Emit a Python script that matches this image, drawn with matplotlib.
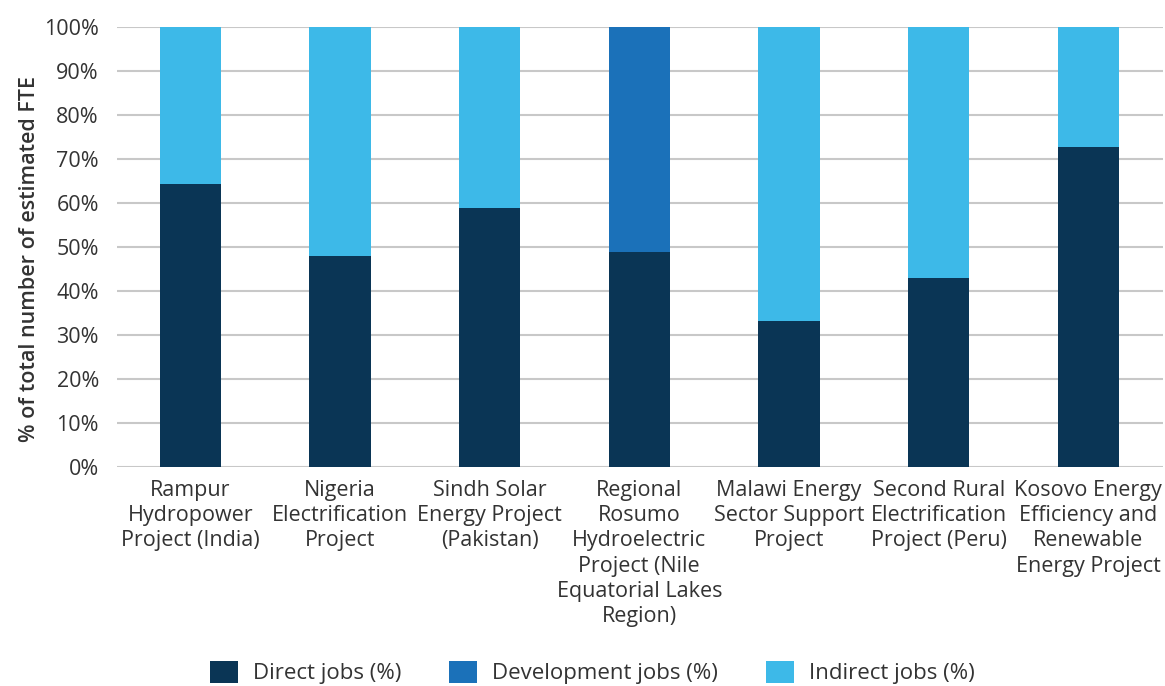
import matplotlib
matplotlib.use("Agg")
import matplotlib.pyplot as plt
import numpy as np
from matplotlib.ticker import FuncFormatter

plt.rcParams['font.family'] = ['Open Sans', 'DejaVu Sans']

categories = [
    "Rampur\nHydropower\nProject (India)",
    "Nigeria\nElectrification\nProject",
    "Sindh Solar\nEnergy Project\n(Pakistan)",
    "Regional\nRosumo\nHydroelectric\nProject (Nile\nEquatorial Lakes\nRegion)",
    "Malawi Energy\nSector Support\nProject",
    "Second Rural\nElectrification\nProject (Peru)",
    "Kosovo Energy\nEfficiency and\nRenewable\nEnergy Project",
]
direct = [64.3, 48.0, 58.9, 49.0, 33.2, 43.0, 72.7]
development = [0, 0, 0, 51.0, 0, 0, 0]
indirect = [35.7, 52.0, 41.1, 0, 66.8, 57.0, 27.3]

c_direct = "#0a3555"
c_dev = "#1b71b9"
c_ind = "#3db9e8"

fig = plt.figure(figsize=(11.65, 6.86), dpi=100)
ax = fig.add_axes([0.1004, 0.319, 0.898, 0.6414])

x = np.arange(len(categories))
w = 0.41
ax.bar(x, direct, w, color=c_direct, label="Direct jobs (%)", zorder=3)
ax.bar(x, development, w, bottom=direct, color=c_dev, label="Development jobs (%)", zorder=3)
bottom2 = np.array(direct) + np.array(development)
ax.bar(x, indirect, w, bottom=bottom2, color=c_ind, label="Indirect jobs (%)", zorder=3)

fs = 15.5
ax.set_xlim(-0.49, 6.5)
ax.set_ylim(0, 100)
ax.set_yticks(np.arange(0, 101, 10))
ax.yaxis.set_major_formatter(FuncFormatter(lambda v, p: f"{int(v)}%"))
ax.grid(axis='y', color='#c8c8c8', linewidth=1.5, zorder=0)
ax.set_axisbelow(True)
for s in ax.spines.values():
    s.set_visible(False)
ax.tick_params(axis='both', length=0, labelsize=fs, colors='#333333')
ax.tick_params(axis='y', pad=13)
ax.tick_params(axis='x', pad=9)
ax.set_xticks(x)
ax.set_xticklabels(categories, linespacing=1.27)
ax.set_ylabel("% of total number of estimated FTE", fontsize=fs, fontweight='semibold',
              color='#333333')
ax.yaxis.set_label_coords(-0.0735, 0.473)

fig.legend(loc='center', bbox_to_anchor=(0.5086, 1 - 672.5 / 686), ncol=3, frameon=False,
           fontsize=16, handlelength=1.26, handleheight=1.13, columnspacing=2.16,
           handletextpad=0.68, labelcolor='#333333')

fig.savefig("out.png", dpi=100)
